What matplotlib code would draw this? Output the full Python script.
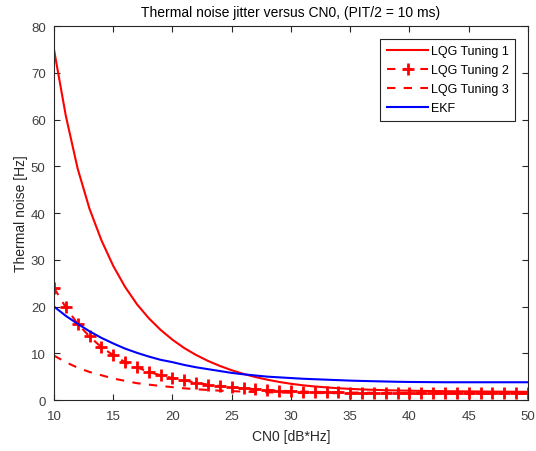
import matplotlib
matplotlib.use("Agg")
import matplotlib.pyplot as plt
import numpy as np

plt.rcParams['font.family'] = ['Liberation Sans', 'DejaVu Sans']

cn0 = list(range(10, 51))

lqg1 = [75, 60.8, 49.5, 40.9, 34.2, 28.7, 24.2, 20.5, 17.5, 15.0, 12.9, 11.1, 9.63, 8.36, 7.29,
        6.37, 5.58, 4.91, 4.35, 3.87, 3.47, 3.15, 2.9, 2.7, 2.52, 2.38, 2.27, 2.18, 2.1, 2.04,
        1.99, 1.95, 1.92, 1.89, 1.86, 1.84, 1.82, 1.8, 1.78, 1.76, 1.75]

lqg2 = [24, 19.8, 16.3, 13.6, 11.3, 9.6, 8.1, 7.0, 6.0, 5.3, 4.7, 4.2, 3.7, 3.3, 3.0,
        2.7, 2.5, 2.3, 2.15, 2.0, 1.9, 1.8, 1.75, 1.7, 1.65, 1.6, 1.58, 1.56, 1.54, 1.52,
        1.5, 1.49, 1.48, 1.47, 1.46, 1.45, 1.44, 1.43, 1.42, 1.41, 1.4]

lqg3 = [9.5, 8.1, 6.9, 6.0, 5.3, 4.6, 4.1, 3.6, 3.3, 3.0, 2.75, 2.5, 2.3, 2.15, 2.0,
        1.9, 1.8, 1.7, 1.65, 1.6, 1.55, 1.52, 1.5, 1.48, 1.46, 1.44, 1.43, 1.42, 1.41, 1.4,
        1.39, 1.38, 1.38, 1.37, 1.37, 1.36, 1.36, 1.35, 1.35, 1.35, 1.35]

ekf = [20, 18, 16.3, 14.7, 13.3, 12.1, 11.0, 10.1, 9.3, 8.6, 8.1, 7.5, 7.0, 6.6, 6.2,
       5.8, 5.5, 5.25, 5.0, 4.85, 4.7, 4.55, 4.45, 4.35, 4.25, 4.15, 4.08, 4.02, 3.96, 3.9,
       3.86, 3.84, 3.82, 3.8, 3.8, 3.8, 3.8, 3.8, 3.8, 3.8, 3.8]

xticks = [10, 15, 20, 25, 30, 35, 40, 45, 50]
yticks = [0, 10, 20, 30, 40, 50, 60, 70, 80]

fig = plt.figure(figsize=(5.36, 4.52), dpi=100)
ax = fig.add_axes([0.1007, 0.1128, 0.8843, 0.8272])

ax.plot(cn0, lqg1, color='red', lw=1.5, label='LQG Tuning 1')
ax.plot(cn0, lqg2, color='red', lw=1.5, ls=(0, (4, 4)), marker='+', markersize=8,
        markeredgewidth=2, label='LQG Tuning 2')
ax.plot(cn0, lqg3, color='red', lw=1.5, ls=(0, (4, 4)), label='LQG Tuning 3')
ax.plot(cn0, ekf, color='blue', lw=1.5, label='EKF')

ax.set_xlim(10, 50)
ax.set_ylim(0, 80)
ax.set_xticks(xticks)
ax.set_yticks(yticks)
ax.tick_params(direction='in', length=4, width=0.8, colors='#262626',
               labelsize=9.5, top=True, right=True, labelcolor='#404040')
ax.tick_params(axis='x', pad=7)
ax.tick_params(axis='y', pad=6)
for s in ax.spines.values():
    s.set_color('#262626')
    s.set_linewidth(0.8)

ax.set_title('Thermal noise jitter versus CN0, (PIT/2 = 10 ms)', fontsize=10,
             color='black', pad=7)
ax.set_xlabel('CN0 [dB*Hz]', fontsize=10, color='#262626', labelpad=5)
ax.set_ylabel('Thermal noise [Hz]', fontsize=10, color='#262626', labelpad=2)

leg = ax.legend(loc='upper right', fontsize=9, handlelength=3.3, fancybox=False,
                framealpha=1, edgecolor='#262626', borderpad=0.55, labelspacing=0.55,
                handletextpad=0.2, borderaxespad=1.0)
leg.get_frame().set_linewidth(0.8)

fig.savefig('out.png', dpi=100)
